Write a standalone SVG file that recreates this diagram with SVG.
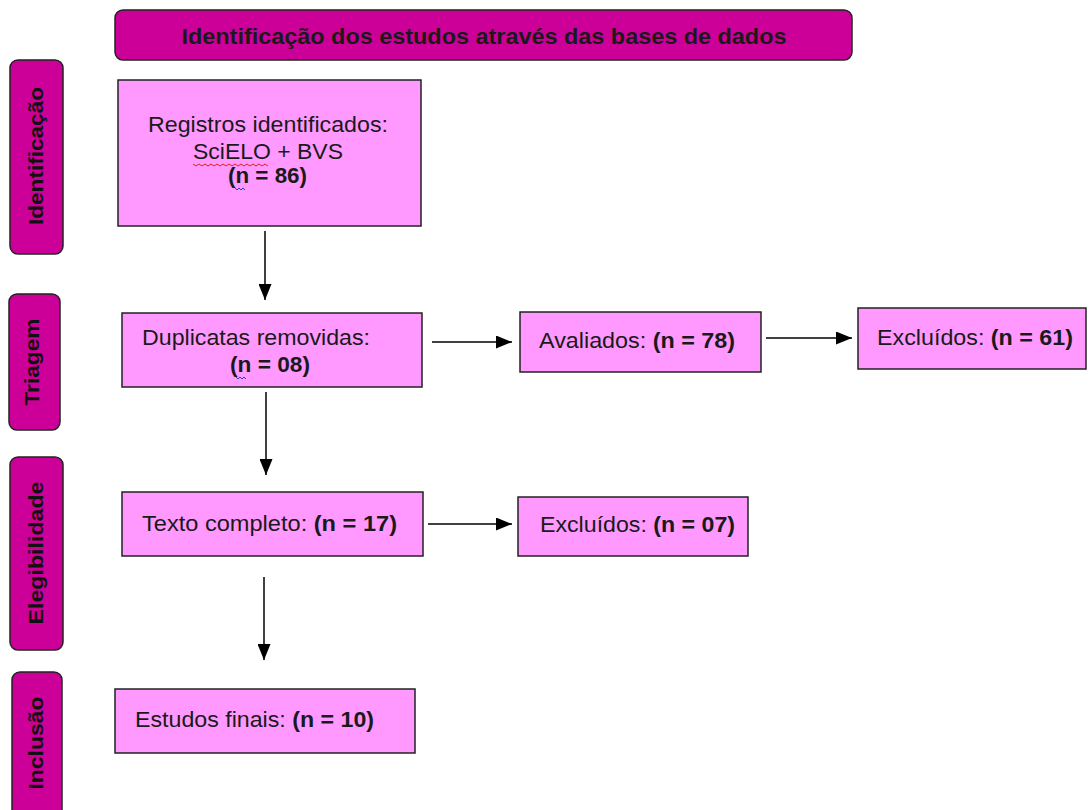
<svg xmlns="http://www.w3.org/2000/svg" width="1089" height="810" viewBox="0 0 1089 810">
<defs>
<style>
.phase{fill:#CC0099;stroke:#222;stroke-width:1.5}
.box{fill:#FF99FF;stroke:#222;stroke-width:1.5}
.t{font-family:"Liberation Sans",Arial,sans-serif;font-size:22px;fill:#1a1a1a}
.b{font-weight:bold}
.pl{font-family:"Liberation Sans",Arial,sans-serif;font-size:21px;font-weight:bold;fill:#111;text-anchor:middle}
.conn line{stroke:#000;stroke-width:1.5;marker-end:url(#ah)}
</style>
<marker id="ah" markerUnits="userSpaceOnUse" markerWidth="16" markerHeight="13" viewBox="0 0 16 13" refX="16" refY="6.5" orient="auto">
<path d="M0,0 L16,6.5 L0,13 Z" fill="#000"/>
</marker>
</defs>
<rect width="1089" height="810" fill="#fff"/>

<g id="title">
<rect class="phase" x="115" y="10" width="737" height="50" rx="8" stroke="#e0a0d0" stroke-width="1"/>
<text class="t b" x="484" y="44" text-anchor="middle" font-size="23" textLength="605" lengthAdjust="spacingAndGlyphs" fill="#000">Identificação dos estudos através das bases de dados</text>
</g>

<g id="phase-identificacao">
<rect class="phase" x="10" y="60" width="53" height="194" rx="8"/>
<text class="pl" transform="translate(43,156) rotate(-90)" textLength="138" lengthAdjust="spacingAndGlyphs">Identificação</text>
</g>
<g id="phase-triagem">
<rect class="phase" x="9" y="294" width="51" height="136" rx="8"/>
<text class="pl" transform="translate(39,362) rotate(-90)" textLength="87" lengthAdjust="spacingAndGlyphs">Triagem</text>
</g>
<g id="phase-elegibilidade">
<rect class="phase" x="10" y="457" width="53" height="193" rx="8"/>
<text class="pl" transform="translate(43,553) rotate(-90)" textLength="143" lengthAdjust="spacingAndGlyphs">Elegibilidade</text>
</g>
<g id="phase-inclusao">
<rect class="phase" x="12" y="672" width="50" height="150" rx="8"/>
<text class="pl" transform="translate(43,743) rotate(-90)" textLength="93" lengthAdjust="spacingAndGlyphs">Inclusão</text>
</g>

<g id="registros">
<rect class="box" x="118" y="80" width="303" height="146"/>
<text class="t" x="148" y="132" textLength="240" lengthAdjust="spacingAndGlyphs">Registros identificados:</text>
<text class="t" x="193" y="159" textLength="150" lengthAdjust="spacingAndGlyphs">SciELO + BVS</text>
<text class="t b" x="228" y="183" textLength="79" lengthAdjust="spacingAndGlyphs">(n = 86)</text>
<path d="M193,164 l3,2 l3,-2 l3,2 l3,-2 l3,2 l3,-2 l3,2 l3,-2 l3,2 l3,-2 l3,2 l3,-2 l3,2 l3,-2 l3,2 l3,-2 l3,2 l3,-2 l3,2 l3,-2 l3,2 l3,-2 l3,2 l3,-2 l3,2" fill="none" stroke="#e02020" stroke-width="1"/>
<path d="M235,188 l2,2 l2,-2 l2,2 l2,-2 l2,2" fill="none" stroke="#2040e0" stroke-width="1"/>
</g>

<g id="duplicatas">
<rect class="box" x="122" y="313" width="300" height="74"/>
<text class="t" x="142" y="345" textLength="228" lengthAdjust="spacingAndGlyphs">Duplicatas removidas:</text>
<text class="t b" x="230" y="372" textLength="80" lengthAdjust="spacingAndGlyphs">(n = 08)</text>
<path d="M236,377 l2,2 l2,-2 l2,2 l2,-2 l2,2" fill="none" stroke="#2040e0" stroke-width="1"/>
</g>

<g id="avaliados">
<rect class="box" x="520" y="312" width="241" height="60"/>
<text class="t" x="539" y="348" textLength="196" lengthAdjust="spacingAndGlyphs">Avaliados: <tspan class="b">(n = 78)</tspan></text>
</g>

<g id="excluidos-61">
<rect class="box" x="858" y="308" width="228" height="61"/>
<text class="t" x="877" y="345" textLength="196" lengthAdjust="spacingAndGlyphs">Excluídos: <tspan class="b">(n = 61)</tspan></text>
</g>

<g id="texto-completo">
<rect class="box" x="122" y="492" width="301" height="64"/>
<text class="t" x="142" y="531" textLength="255" lengthAdjust="spacingAndGlyphs">Texto completo: <tspan class="b">(n = 17)</tspan></text>
</g>

<g id="excluidos-07">
<rect class="box" x="518" y="497" width="230" height="59"/>
<text class="t" x="540" y="532" textLength="195" lengthAdjust="spacingAndGlyphs">Excluídos: <tspan class="b">(n = 07)</tspan></text>
</g>

<g id="estudos-finais">
<rect class="box" x="115" y="689" width="300" height="64"/>
<text class="t" x="135" y="727" textLength="239" lengthAdjust="spacingAndGlyphs">Estudos finais: <tspan class="b">(n = 10)</tspan></text>
</g>

<g id="connectors" class="conn">
<line x1="265" y1="231" x2="265" y2="300"/>
<line x1="266" y1="392" x2="266" y2="475"/>
<line x1="264" y1="577" x2="264" y2="660"/>
<line x1="432" y1="342" x2="512" y2="342"/>
<line x1="766" y1="338" x2="852" y2="338"/>
<line x1="428" y1="524" x2="512" y2="524"/>
</g>
</svg>
